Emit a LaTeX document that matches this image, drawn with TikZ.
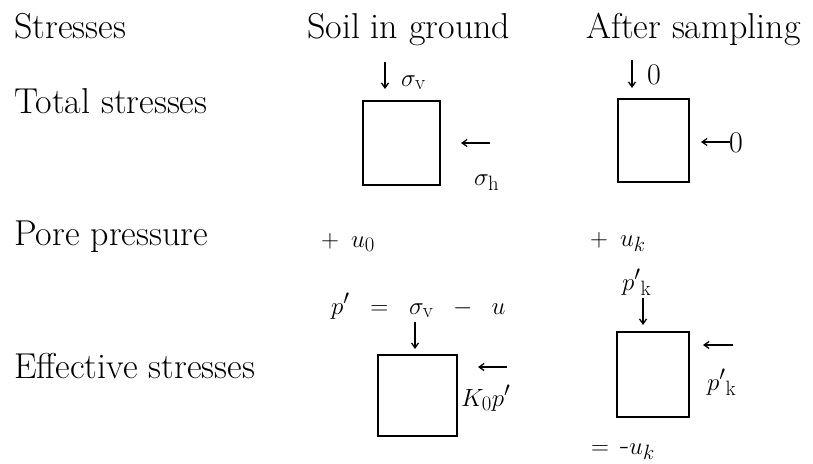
\documentclass[tikz,border=0pt]{standalone}
\usetikzlibrary{arrows.meta}
\begin{document}
\begin{tikzpicture}[x=1pt,y=-1pt,
  lbl/.style={anchor=base west,inner sep=0pt,font=\fontsize{36}{43}\selectfont},
  mth/.style={anchor=base west,inner sep=0pt,font=\fontsize{30}{36}\selectfont},
  sbox/.style={draw,line width=2.4pt},
  force/.style={line width=1.3pt,-{Straight Barb[length=5pt,width=7pt,line width=1.3pt]}}]
\useasboundingbox (0,0) rectangle (813,463);
% headers and row labels
\node[lbl] (h1) at (14,38) {Stresses};
\node[lbl] (h2) at (307,38) {Soil in ground};
\node[lbl] (h3) at (586,38) {After sampling};
\node[lbl] (r1) at (14,113) {Total stresses};
\node[lbl] (r2) at (14,245) {Pore pressure};
\node[lbl] (r3) at (14,378) {Effective stresses};
% total stresses, soil in ground
\draw[sbox] (363,101) rectangle (440,185);
\node[mth] (sv) at (401,86) {$\sigma_{\mathrm{v}}$};
\coordinate (a1s) at (385,62);
\coordinate (a1e) at (385,89);
\draw[force] (a1s) -- (a1e);
\coordinate (a2s) at (490,143);
\coordinate (a2e) at (461,143);
\draw[force] (a2s) -- (a2e);
\node[mth] (sh) at (474,185) {$\sigma_{\mathrm{h}}$};
% total stresses, after sampling
\draw[sbox] (618,99) rectangle (689,182);
\coordinate (b1s) at (632,60);
\coordinate (b1e) at (632,88);
\draw[force] (b1s) -- (b1e);
\node[mth] (z1) at (647,84) {0};
\coordinate (b2s) at (730,142);
\coordinate (b2e) at (701,142);
\draw[force] (b2s) -- (b2e);
\node[mth] (z2) at (729,152) {0};
% pore pressure
\node[mth] (u0) at (321,247) {$+$\hspace{12pt}$u_0$};
\node[mth] (uk) at (590,246) {$+$\hspace{12pt}$u_k$};
% effective stresses, soil in ground
\node[mth] (pe) at (331,314) {$p'\;\;=\;\;\sigma_{\mathrm{v}}\;\;-\;\;u$};
\draw[sbox] (378,355) rectangle (457,436);
\coordinate (c1s) at (415,322);
\coordinate (c1e) at (415,349);
\draw[force] (c1s) -- (c1e);
\coordinate (c2s) at (507,367);
\coordinate (c2e) at (478,367);
\draw[force] (c2s) -- (c2e);
\node[mth] (kp) at (461,406) {$K_0p'$};
% effective stresses, after sampling
\node[mth] (pk1) at (622,290) {$p'{}_{\mathrm{k}}$};
\draw[sbox] (617,332) rectangle (689,417);
\coordinate (d1s) at (643,298);
\coordinate (d1e) at (643,325);
\draw[force] (d1s) -- (d1e);
\coordinate (d2s) at (733,345);
\coordinate (d2e) at (703,345);
\draw[force] (d2s) -- (d2e);
\node[mth] (pk2) at (707,390) {$p'{}_{\mathrm{k}}$};
\node[mth] (euk) at (591,454) {$=$\hspace{11pt}-$u_k$};
\end{tikzpicture}
\end{document}
